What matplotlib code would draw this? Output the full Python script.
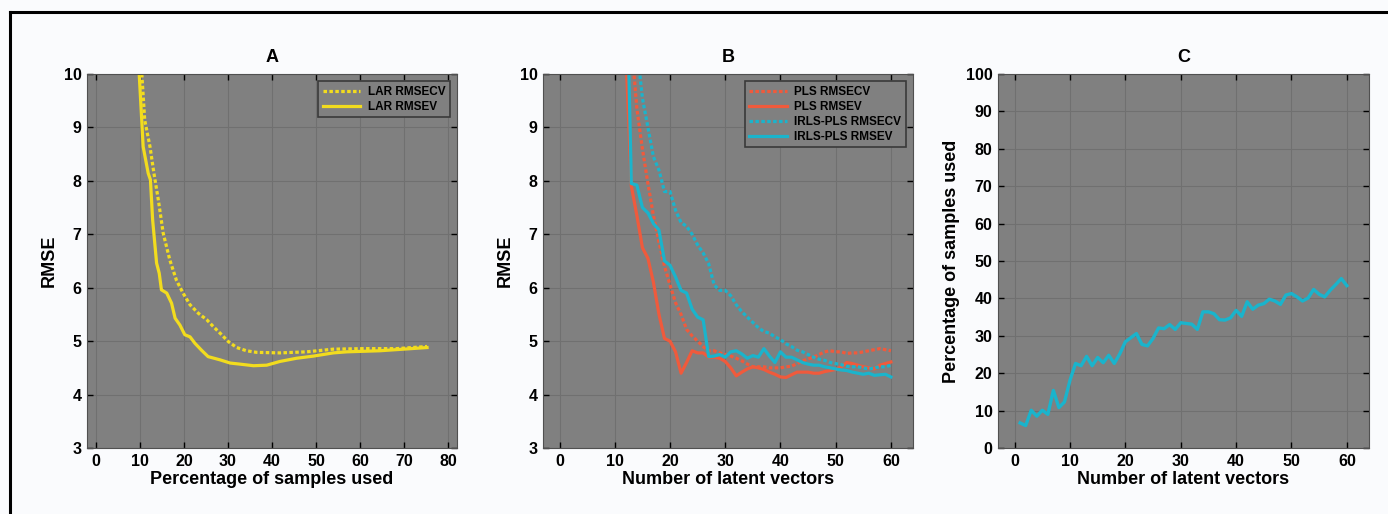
import numpy as np
import matplotlib
matplotlib.use("Agg")
import matplotlib.pyplot as plt
from matplotlib.lines import Line2D

plt.rcParams['font.family'] = ['Liberation Sans', 'DejaVu Sans']
plt.rcParams['font.weight'] = 'bold'

# ---- panel A: LAR ----
lar_cv_x = [10.45, 11.1, 12.3, 13.2, 14.2, 15.3, 16.8, 18.3, 19.8, 21.4, 23.3, 25.2, 26.7,
            28.2, 30.1, 32.0, 34.2, 36.5, 41.8, 47.9, 53.9, 60.8, 68.3, 75.2]
lar_cv_y = [10.0, 9.14, 8.64, 8.14, 7.64, 7.02, 6.52, 6.14, 5.90, 5.68, 5.52, 5.40, 5.27,
            5.15, 4.99, 4.88, 4.82, 4.79, 4.78, 4.80, 4.85, 4.86, 4.86, 4.90]
lar_v_x = [9.85, 10.75, 11.9, 12.4, 12.9, 13.8, 14.4, 14.9, 16.1, 17.2, 18.0, 19.1, 20.2,
           21.4, 22.5, 24.0, 25.5, 28.2, 30.5, 32.7, 35.8, 38.8, 41.8, 45.6, 49.4, 53.9,
           57.0, 64.5, 75.2]
lar_v_y = [10.0, 8.64, 8.14, 8.02, 7.27, 6.46, 6.27, 5.96, 5.90, 5.71, 5.43, 5.30, 5.12,
           5.08, 4.96, 4.83, 4.71, 4.65, 4.59, 4.57, 4.54, 4.55, 4.62, 4.68, 4.72, 4.78,
           4.80, 4.82, 4.88]

# ---- panel B: PLS vs IRLS-PLS ----
pls_x = list(range(11, 61))
pls_v = [14.0, 10.4, 7.9, 7.35, 6.75, 6.55, 6.1, 5.5, 5.05, 5.0, 4.8, 4.4, 4.6, 4.82, 4.78,
         4.78, 4.7, 4.7, 4.68, 4.62, 4.5, 4.35, 4.42, 4.48, 4.52, 4.5, 4.47, 4.42, 4.38,
         4.33, 4.32, 4.37, 4.42, 4.42, 4.42, 4.4, 4.4, 4.43, 4.45, 4.47, 4.52, 4.6, 4.58,
         4.55, 4.52, 4.5, 4.48, 4.55, 4.58, 4.61]
pls_cv = [15.0, 12.5, 10.6, 9.35, 8.6, 7.95, 7.35, 6.85, 6.4, 6.05, 5.72, 5.5, 5.22, 5.1,
          5.0, 4.9, 4.82, 4.82, 4.78, 4.75, 4.72, 4.68, 4.63, 4.57, 4.52, 4.52, 4.52, 4.5,
          4.5, 4.5, 4.52, 4.53, 4.58, 4.63, 4.67, 4.7, 4.75, 4.8, 4.82, 4.8, 4.8, 4.77,
          4.78, 4.78, 4.8, 4.82, 4.84, 4.86, 4.84, 4.82]
irls_x = list(range(12, 61))
irls_v = [12.5, 7.95, 7.92, 7.5, 7.4, 7.2, 7.08, 6.5, 6.42, 6.2, 5.95, 5.9, 5.6, 5.45, 5.4,
          4.71, 4.72, 4.75, 4.7, 4.8, 4.82, 4.76, 4.68, 4.73, 4.7, 4.86, 4.72, 4.6, 4.8,
          4.7, 4.7, 4.65, 4.6, 4.57, 4.55, 4.55, 4.52, 4.5, 4.48, 4.46, 4.45, 4.42, 4.4,
          4.38, 4.4, 4.36, 4.37, 4.38, 4.33]
irls_cv = [14.0, 12.0, 10.5, 9.55, 9.0, 8.45, 8.2, 7.8, 7.8, 7.45, 7.22, 7.15, 7.0, 6.8,
           6.65, 6.45, 6.05, 5.95, 5.95, 5.85, 5.68, 5.55, 5.45, 5.35, 5.25, 5.18, 5.15,
           5.08, 5.03, 4.95, 4.9, 4.83, 4.8, 4.75, 4.7, 4.66, 4.64, 4.6, 4.58, 4.56, 4.53,
           4.52, 4.52, 4.5, 4.48, 4.5, 4.52, 4.52, 4.55]

# ---- panel C: samples used ----
lv = list(range(1, 61))
pct_used = [6.7, 6.0, 10.1, 8.5, 10.1, 9.0, 15.4, 10.8, 12.3, 18.1, 22.6, 22.0, 24.5, 22.0,
            24.2, 22.8, 24.8, 22.6, 25.2, 28.4, 29.5, 30.6, 27.7, 27.3, 29.3, 32.1, 31.9,
            33.0, 31.7, 33.5, 33.3, 33.1, 31.7, 36.4, 36.4, 35.9, 34.3, 34.2, 34.8, 36.8,
            35.2, 39.1, 37.1, 38.2, 38.6, 39.8, 39.3, 38.4, 40.9, 41.3, 40.4, 39.3, 40.1,
            42.4, 41.1, 40.4, 42.2, 43.7, 45.3, 43.4]

yellow = "#f2dc1e"
red = "#f05a3c"
cyan = "#1ab4cc"
dot = (0, (1.1, 0.75))

fig = plt.figure(figsize=(13.88, 5.14), dpi=100, facecolor="#fafbfd")
fig.add_artist(Line2D([10/1388, 1], [1 - 12/514, 1 - 12/514], color="black", lw=2.2))
fig.add_artist(Line2D([10/1388, 10/1388], [0, 1 - 12/514], color="black", lw=2.2))

bottom = 66/514
height = 374/514
axA = fig.add_axes([87/1388, bottom, 370/1388, height])
axB = fig.add_axes([543/1388, bottom, 370/1388, height])
axC = fig.add_axes([998/1388, bottom, 371/1388, height])


def style(ax, title, xlabel, ylabel):
    ax.set_facecolor("#808080")
    ax.grid(True, color="#707070", lw=0.8)
    ax.set_axisbelow(True)
    for s in ax.spines.values():
        s.set_color("#505050")
        s.set_linewidth(0.8)
    ax.tick_params(direction="in", length=4, width=1, color="black", top=True,
                   right=True, labelsize=11.5, pad=4)
    for lab in ax.get_xticklabels() + ax.get_yticklabels():
        lab.set_fontweight("bold")
    ax.set_title(title, fontsize=13, fontweight="bold", pad=9)
    ax.set_xlabel(xlabel, fontsize=13, fontweight="bold", labelpad=2)
    ax.set_ylabel(ylabel, fontsize=13, fontweight="bold", labelpad=4)


def legend(ax):
    lg = ax.legend(loc="upper right", fontsize=8.5, fancybox=False, framealpha=1,
                   borderaxespad=0.6, handlelength=3.2, labelspacing=0.25,
                   borderpad=0.4, handletextpad=0.6)
    lg.get_frame().set_facecolor("#808080")
    lg.get_frame().set_edgecolor("#3a3a3a")
    lg.get_frame().set_linewidth(1.2)
    for t in lg.get_texts():
        t.set_fontweight("bold")


# A
axA.plot(lar_cv_x, lar_cv_y, color=yellow, lw=2.3, ls=dot, label="LAR RMSECV")
axA.plot(lar_v_x, lar_v_y, color=yellow, lw=2.3, label="LAR RMSEV")
axA.set_xlim(-2, 82)
axA.set_ylim(3, 10)
axA.set_xticks(np.arange(0, 81, 10))
axA.set_yticks(np.arange(3, 11, 1))
style(axA, "A", "Percentage of samples used", "RMSE")
legend(axA)

# B
axB.plot(pls_x, pls_cv, color=red, lw=2.3, ls=dot, label="PLS RMSECV")
axB.plot(pls_x, pls_v, color=red, lw=2.3, label="PLS RMSEV")
axB.plot(irls_x, irls_cv, color=cyan, lw=2.3, ls=dot, label="IRLS-PLS RMSECV")
axB.plot(irls_x, irls_v, color=cyan, lw=2.3, label="IRLS-PLS RMSEV")
axB.set_xlim(-3, 64)
axB.set_ylim(3, 10)
axB.set_xticks(np.arange(0, 61, 10))
axB.set_yticks(np.arange(3, 11, 1))
style(axB, "B", "Number of latent vectors", "RMSE")
legend(axB)

# C
axC.plot(lv, pct_used, color=cyan, lw=2.4)
axC.set_xlim(-3, 64)
axC.set_ylim(0, 100)
axC.set_xticks(np.arange(0, 61, 10))
axC.set_yticks(np.arange(0, 101, 10))
style(axC, "C", "Number of latent vectors", "Percentage of samples used")

fig.savefig("out.png", dpi=100, facecolor=fig.get_facecolor())
